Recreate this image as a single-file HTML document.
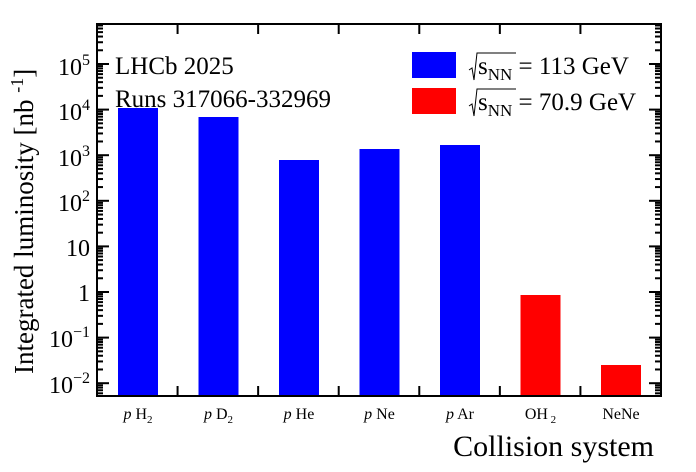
<!DOCTYPE html>
<html><head><meta charset="utf-8"><style>
html,body{margin:0;padding:0;background:#fff;}
svg{display:block;}
text{font-family:"Liberation Serif","DejaVu Serif",serif;}
</style></head><body>
<svg id="s" width="696" height="472" xmlns="http://www.w3.org/2000/svg">
<rect x="118" y="108" width="40" height="288" fill="#0000ff"/>
<rect x="198.5" y="117" width="40" height="279" fill="#0000ff"/>
<rect x="279" y="160" width="40" height="236" fill="#0000ff"/>
<rect x="359.5" y="149" width="40" height="247" fill="#0000ff"/>
<rect x="440" y="145" width="40" height="251" fill="#0000ff"/>
<rect x="520.5" y="295" width="40" height="101" fill="#ff0000"/>
<rect x="601" y="365" width="40" height="31" fill="#ff0000"/>
<g id="ax" stroke="#000" stroke-width="2" fill="none">
<rect x="97" y="24" width="564" height="372"/>
</g>
<g font-size="24" text-anchor="end">
<text x="90" y="75">10<tspan dy="-10" font-size="16">5</tspan></text>
<text x="90" y="120">10<tspan dy="-10" font-size="16">4</tspan></text>
<text x="90" y="166">10<tspan dy="-10" font-size="16">3</tspan></text>
<text x="90" y="211">10<tspan dy="-10" font-size="16">2</tspan></text>
<text x="90" y="256">10</text>
<text x="90" y="301">1</text>
<text x="90" y="347">10<tspan dy="-10" font-size="16">−1</tspan></text>
<text x="90" y="393">10<tspan dy="-10" font-size="16">−2</tspan></text>
</g>
<g font-size="25">
<text x="115" y="74">LHCb 2025</text>
<text x="115" y="107">Runs 317066-332969</text>
</g>
<rect x="412" y="52" width="44" height="26" fill="#0000ff"/>
<rect x="412" y="88" width="44" height="26" fill="#ff0000"/>
<g stroke="#000" stroke-width="1" fill="none">
<polyline points="469,70 472,68 474,80 477,53 516,53"/>
<polyline points="469,106 472,104 474,116 477,89 516,89"/>
</g>
<g font-size="25">
<text x="478" y="74">s<tspan font-size="17" dy="6">NN</tspan><tspan dy="-6"> = 113 GeV</tspan></text>
<text x="478" y="110">s<tspan font-size="17" dy="6">NN</tspan><tspan dy="-6"> = 70.9 GeV</tspan></text>
</g>
<g font-size="16" text-anchor="middle">
<text x="138" y="419"><tspan font-style="italic">p</tspan> H<tspan font-size="11" dy="4">2</tspan></text>
<text x="218.5" y="419"><tspan font-style="italic">p</tspan> D<tspan font-size="11" dy="4">2</tspan></text>
<text x="299" y="419"><tspan font-style="italic">p</tspan> He</text>
<text x="379.5" y="419"><tspan font-style="italic">p</tspan> Ne</text>
<text x="460" y="419"><tspan font-style="italic">p</tspan> Ar</text>
<text x="540.5" y="419">OH<tspan font-size="11" dy="4"> 2</tspan></text>
<text x="621" y="419">NeNe</text>
</g>
<text x="654" y="456" font-size="30" text-anchor="end">Collision system</text>
<text transform="translate(33,374) rotate(-90)" font-size="27">Integrated luminosity [nb <tspan font-size="18" dy="-10">-1</tspan><tspan dy="10">]</tspan></text>
</svg>
<script>
var s=document.getElementById('ax'),ns="http://www.w3.org/2000/svg";
function L(x1,y1,x2,y2){var l=document.createElementNS(ns,'line');l.setAttribute('x1',x1);l.setAttribute('y1',y1);l.setAttribute('x2',x2);l.setAttribute('y2',y2);s.appendChild(l);}
for(var i=1;i<7;i++){var x=97+i*80.57;L(x,396,x,386);L(x,24,x,34);}
for(var n=-3;n<=5;n++){for(var k=1;k<=9;k++){var y=292-45.6*(n+Math.log10(k));if(y<24||y>396)continue;var len=k==1?12:6;L(97,y,97+len,y);L(661,y,661-len,y);}}
</script>
</body></html>
